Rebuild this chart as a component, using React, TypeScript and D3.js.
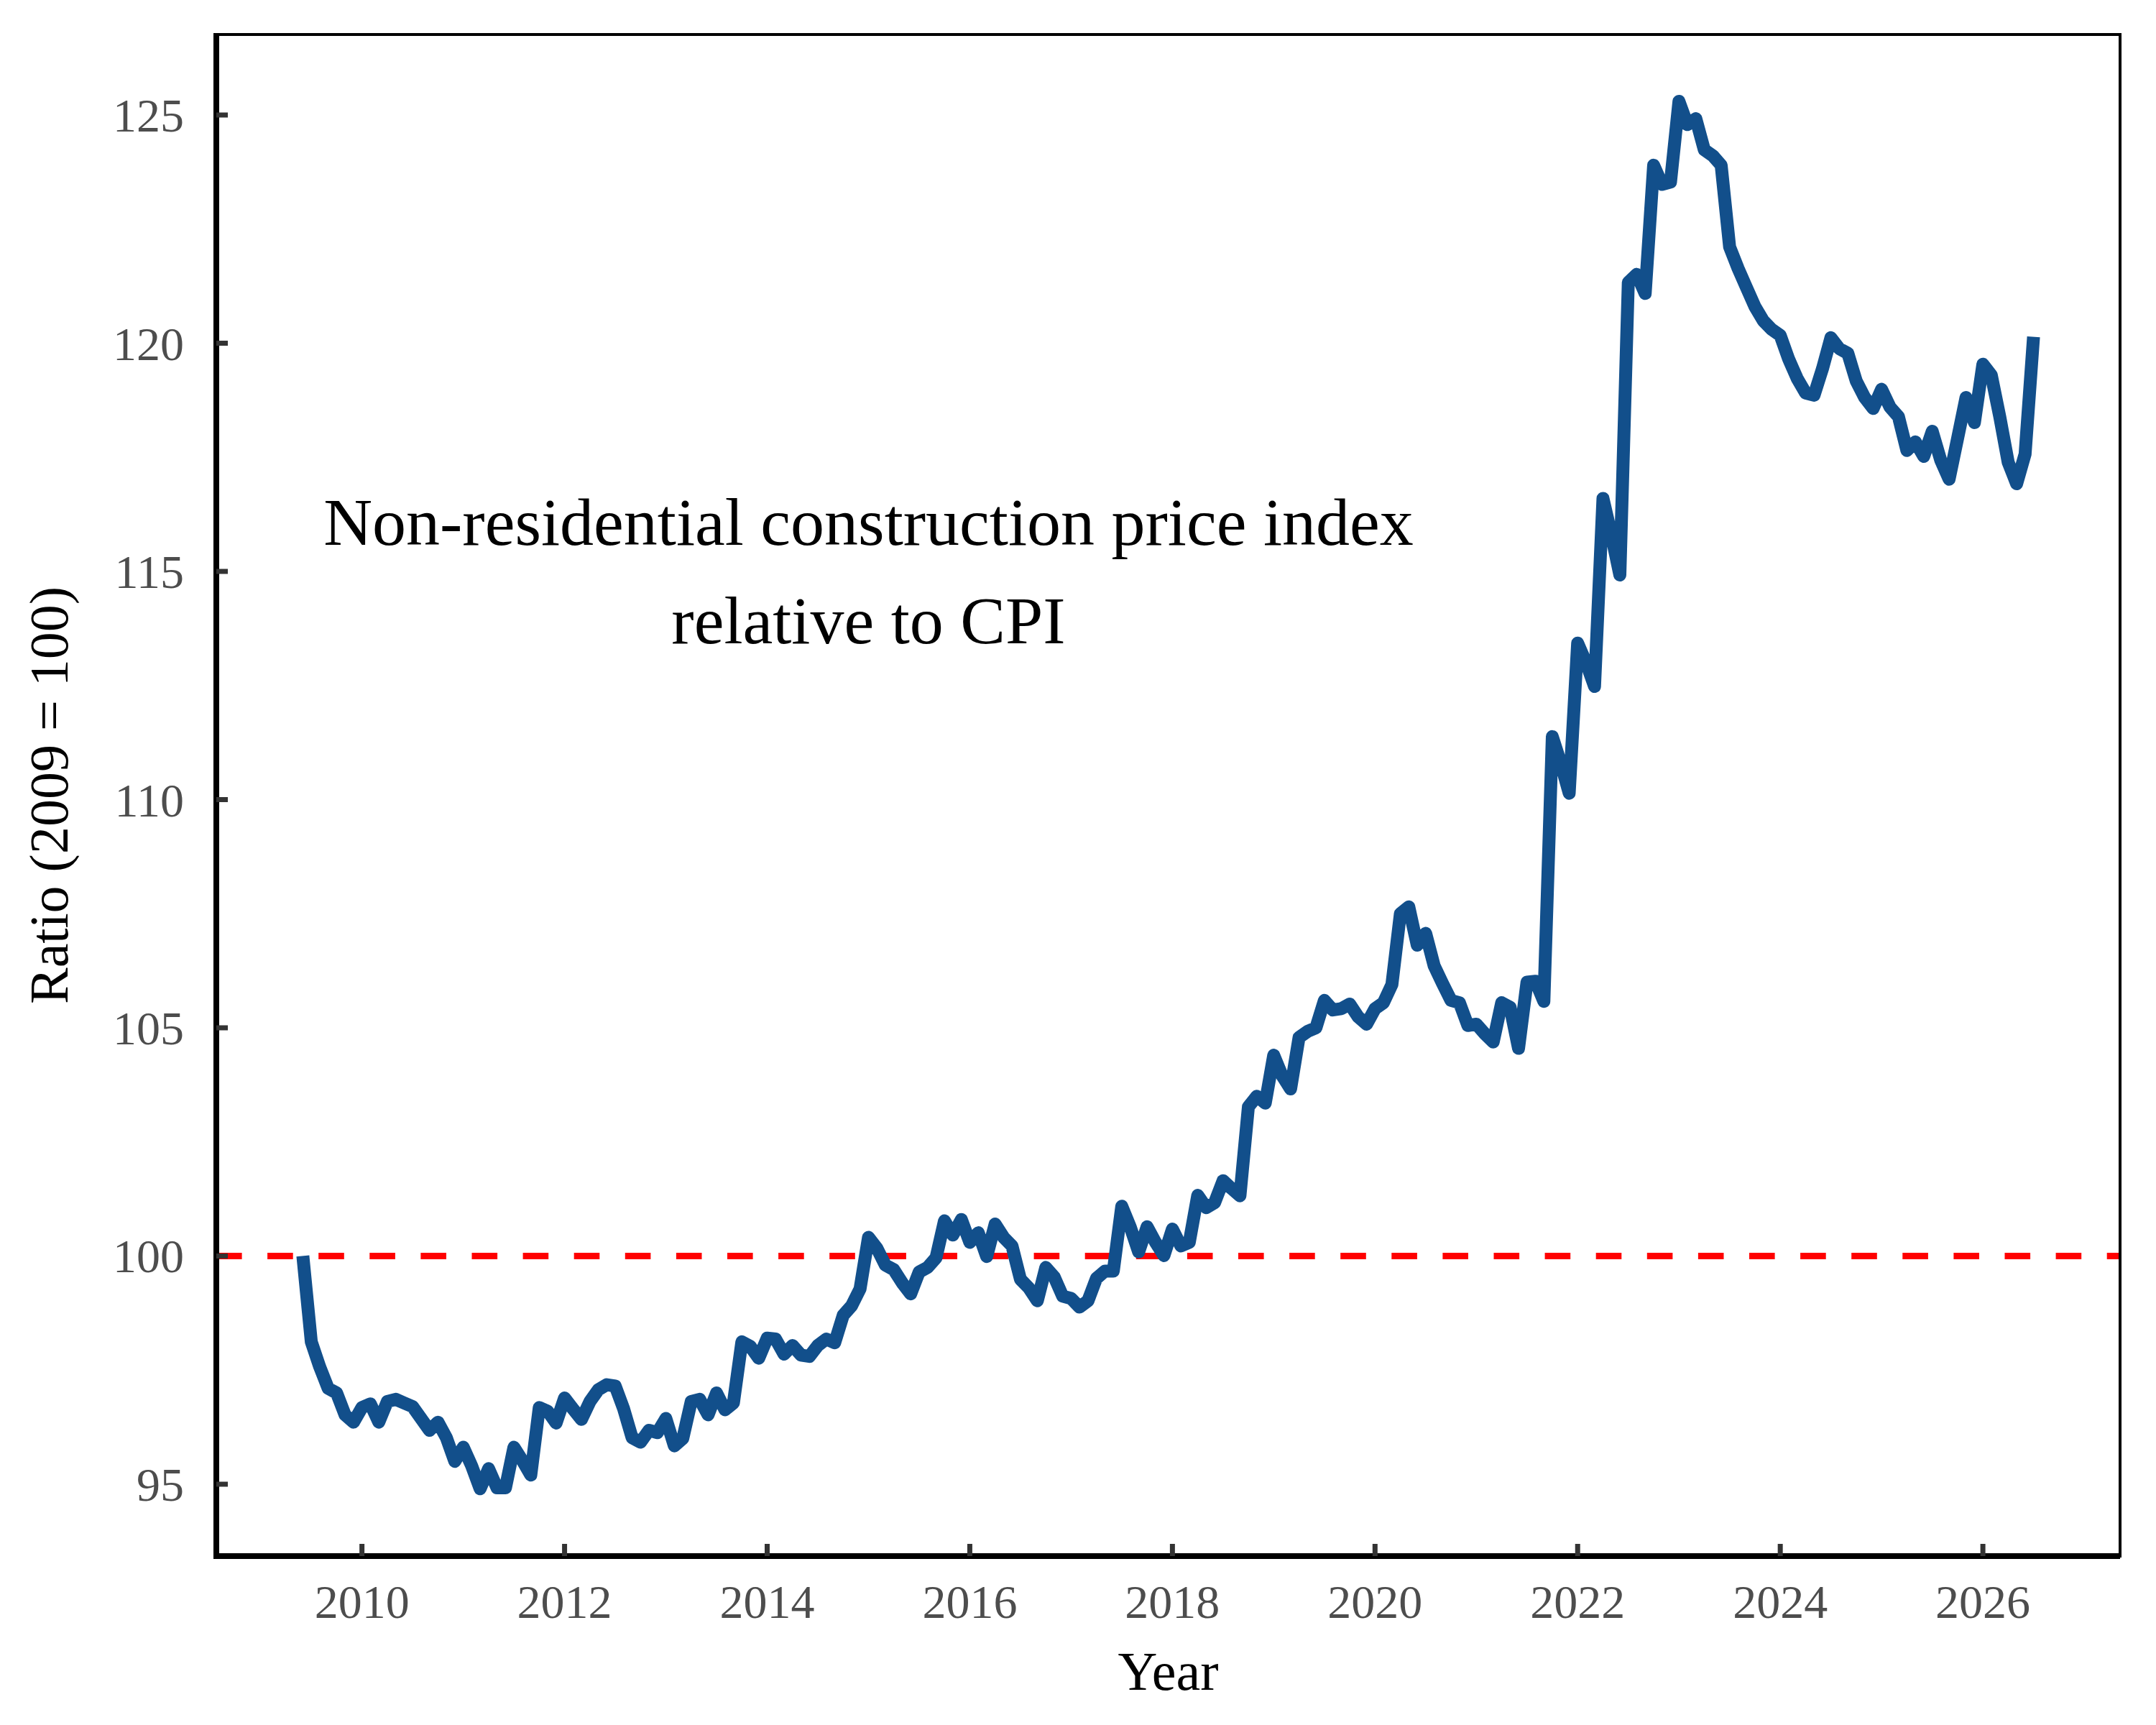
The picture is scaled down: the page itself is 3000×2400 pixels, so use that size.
import * as d3 from "d3";

// Monthly ratio, June 2009 to July 2026 (2009 = 100)
const firstYear = 2009;
const firstMonth = 6;
const ratio = [
  100.0, 98.12, 97.57, 97.1, 97.0, 96.52, 96.36, 96.68, 96.76, 96.36, 96.81, 96.86,
  96.78, 96.7, 96.44, 96.18, 96.36, 96.02, 95.5, 95.81, 95.4, 94.9, 95.34, 94.92,
  94.92, 95.81, 95.52, 95.2, 96.68, 96.6, 96.34, 96.89, 96.65, 96.42, 96.81, 97.07,
  97.18, 97.15, 96.65, 96.02, 95.92, 96.18, 96.13, 96.44, 95.84, 96.0, 96.81, 96.86,
  96.52, 97.0, 96.63, 96.78, 98.12, 98.02, 97.76, 98.2, 98.18, 97.85, 98.04, 97.83,
  97.8, 98.04, 98.18, 98.1, 98.7, 98.91, 99.28, 100.41, 100.17, 99.8, 99.7, 99.41,
  99.17, 99.65, 99.75, 99.96, 100.77, 100.46, 100.8, 100.3, 100.51, 99.99, 100.7, 100.41,
  100.22, 99.49, 99.3, 99.02, 99.75, 99.54, 99.12, 99.07, 98.88, 99.02, 99.51, 99.67,
  99.67, 101.09, 100.64, 100.09, 100.64, 100.3, 100.01, 100.59, 100.22, 100.3, 101.33, 101.06,
  101.17, 101.65, 101.48, 101.32, 103.27, 103.5, 103.35, 104.4, 103.95, 103.66, 104.79, 104.92,
  105.0, 105.6, 105.39, 105.42, 105.52, 105.24, 105.08, 105.42, 105.55, 105.95, 107.5, 107.65,
  106.81, 107.07, 106.36, 105.97, 105.6, 105.55, 105.05, 105.08, 104.87, 104.69, 105.55, 105.45,
  104.55, 106.0, 106.02, 105.58, 111.38, 110.8, 110.14, 113.43, 113.0, 112.48, 116.6, 115.8,
  114.92, 121.33, 121.51, 121.09, 123.9, 123.48, 123.53, 125.3, 124.79, 124.92, 124.24, 124.11,
  123.9, 122.11, 121.64, 121.22, 120.8, 120.49, 120.3, 120.17, 119.65, 119.23, 118.91, 118.86,
  119.44, 120.12, 119.88, 119.78, 119.17, 118.81, 118.57, 118.99, 118.6, 118.39, 117.65, 117.84,
  117.52, 118.07, 117.44, 117.02, 117.91, 118.81, 118.26, 119.54, 119.3, 118.39, 117.39, 116.92,
  117.57, 120.14,
];

const xTicks = [2010, 2012, 2014, 2016, 2018, 2020, 2022, 2024, 2026];
const yTicks = [95, 100, 105, 110, 115, 120, 125];
const baseline = 100;
const noteLines = ["Non-residential construction price index", "relative to CPI"];
const noteAt = { year: 2015, value: 115 };

const width = 3000;
const height = 2400;
const panel = { left: 301, top: 48, right: 2950, bottom: 2165 };
const font = "'Liberation Serif', 'Times New Roman', Times, serif";

type Point = { year: number; value: number };

const series: Point[] = ratio.map((value, i) => ({
  year: firstYear + (firstMonth - 1 + i) / 12,
  value,
}));

export default function App() {
  const first = series[0].year;
  const last = series[series.length - 1].year;
  const pad = (last - first) * 0.05;
  const x = d3.scaleLinear().domain([first - pad, last + pad]).range([panel.left, panel.right]);
  const y = d3.scaleLinear().domain([93.425, 126.764]).range([panel.bottom, panel.top]);

  const line = d3
    .line<Point>()
    .x((d) => x(d.year))
    .y((d) => y(d.value));

  const midX = (panel.left + panel.right) / 2;
  const midY = (panel.top + panel.bottom) / 2;

  return (
    <svg
      width={width}
      height={height}
      viewBox={`0 0 ${width} ${height}`}
      style={{ position: "absolute", left: 0, top: 0, background: "#ffffff" }}
      fontFamily={font}
    >
      <rect x={0} y={0} width={width} height={height} fill="#ffffff" />

      <line
        x1={panel.left}
        x2={panel.right}
        y1={y(baseline)}
        y2={y(baseline)}
        stroke="#ff0000"
        strokeWidth={9}
        strokeDasharray="35.6 35.5"
      />

      <path
        d={line(series) ?? ""}
        fill="none"
        stroke="#124f8b"
        strokeWidth={18}
        strokeLinejoin="round"
        strokeLinecap="butt"
      />

      {noteLines.map((t, i) => (
        <text
          key={t}
          x={x(noteAt.year)}
          y={y(noteAt.value) - 37 + i * 137}
          textAnchor="middle"
          fontSize={94}
          fill="#000000"
        >
          {t}
        </text>
      ))}

      <rect
        x={panel.left}
        y={panel.top}
        width={panel.right - panel.left}
        height={panel.bottom - panel.top}
        fill="none"
        stroke="#000000"
        strokeWidth={4}
      />
      <line x1={panel.left} x2={panel.left} y1={panel.top - 2} y2={panel.bottom + 4} stroke="#000000" strokeWidth={8} />
      <line x1={panel.left - 4} x2={panel.right} y1={panel.bottom} y2={panel.bottom} stroke="#000000" strokeWidth={8} />

      {yTicks.map((t) => (
        <g key={`y${t}`}>
          <line x1={panel.left} x2={panel.left + 16} y1={y(t)} y2={y(t)} stroke="#333333" strokeWidth={7} />
          <text x={256} y={y(t) + 23} textAnchor="end" fontSize={66} fill="#4d4d4d">
            {t}
          </text>
        </g>
      ))}

      {xTicks.map((t) => (
        <g key={`x${t}`}>
          <line x1={x(t)} x2={x(t)} y1={panel.bottom} y2={panel.bottom - 17} stroke="#333333" strokeWidth={7} />
          <text x={x(t)} y={2251} textAnchor="middle" fontSize={66} fill="#4d4d4d">
            {t}
          </text>
        </g>
      ))}

      <text x={midX} y={2351} textAnchor="middle" fontSize={76} fill="#000000">
        Year
      </text>
      <text
        transform={`translate(94, ${midY}) rotate(-90)`}
        textAnchor="middle"
        fontSize={76}
        fill="#000000"
      >
        Ratio (2009 = 100)
      </text>
    </svg>
  );
}
